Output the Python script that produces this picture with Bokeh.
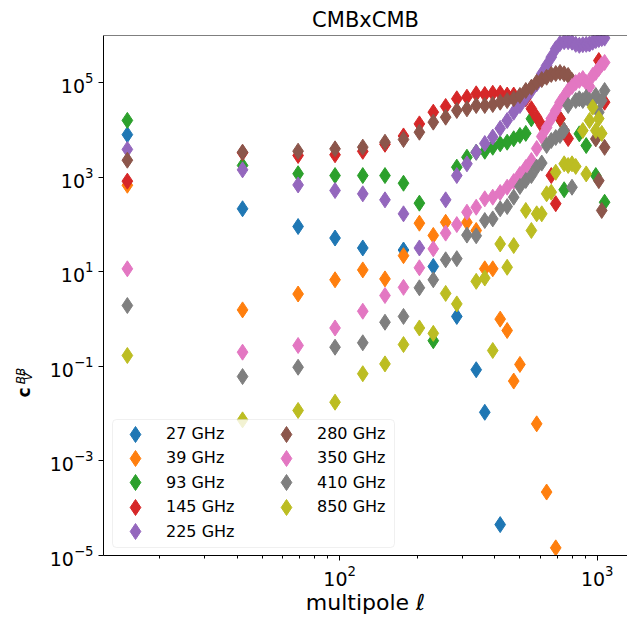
import math
from bokeh.plotting import figure
from bokeh.layouts import row
from bokeh.models import (FixedTicker, LogTickFormatter, Legend, LegendItem, Label,
                          Span, ColumnDataSource, Range1d, BoxAnnotation)
from bokeh.embed import file_html
from bokeh.resources import INLINE

nan = float("nan")

# multipole bin centres
ell = [15, 42, 69, 96, 123, 150, 177, 204, 231, 258, 285, 312, 339, 366, 393, 420,
       447, 474, 501, 528, 555, 582, 609, 636, 663, 690, 717, 744, 771, 798, 825,
       852, 879, 906, 933, 960, 987, 1014, 1041, 1068]

cl_27 = [8000, 216, 91, 52, 32, nan, 29, nan, 13, nan, 1.14, nan, 0.085, 0.0107, nan,
         4.5e-5, nan, nan, nan, nan, nan, nan, nan, nan, nan, nan, nan, nan, nan, nan,
         nan, nan, nan, nan, nan, nan, nan, nan, nan, nan]
cl_39 = [680, 1.57, 3.4, 6.8, 11, 7.1, 22, 107, 59, 112, nan, 112, 75, 11.6, 11.6, 1.0,
         0.575, 0.049, 0.11, nan, nan, 0.0061, nan, 2.2e-4, nan, 1.45e-5, nan, nan, nan,
         nan, nan, nan, nan, nan, nan, nan, nan, nan, nan, nan]
cl_93 = [16000, 1780, 1190, 1090, 1090, 1090, 750, 284, 0.35, nan, 1640, 2660, 3400,
         3560, 4330, 5110, 5530, 6530, 7670, 8500, 17300, nan, nan, nan, nan, nan, 17300,
         545, nan, nan, nan, 8300, nan, 4700, nan, nan, 1090, nan, nan, 297]
cl_145 = [830, 3300, 2900, 3000, 3550, 5000, 7500, 13500, 23900, 31500, 45800, 49500,
          58400, 56500, 60000, 60000, 55000, 55000, 51000, 45800, 28200, 18700, 12500,
          nan, 1090, 277, 17500, 9780, 6600, nan, nan, nan, nan, nan, nan, nan, nan,
          295000, nan, 38800]
cl_225 = [3900, 1440, 690, 526, 447, 334, 169, 32, nan, 334, 1090, 1930, 3400, 5190,
          7100, 10800, 15900, 23800, 33000, 49500, 68600, 95000, 155000, 232000, 348000,
          523000, 680000, 740000, 740000, 720000, 650000, 620000, 640000, 650000, 660000,
          720000, 780000, 820000, 860000, 880000]
cl_280 = [2300, 3400, 3570, 4000, 4350, 5530, 6300, 9000, 14700, 18700, 25900, 28100,
          33000, 33000, 34600, 38800, 42000, 45800, 53900, 68600, 80500, 103000, 117000,
          131000, 150000, 157000, 165000, 155000, 143000, 112000, nan, nan, nan, nan, nan,
          nan, 6500, 850, 199, 4300]
cl_350 = [11.6, 0.2, 0.277, 0.65, 1.47, 3.16, 4.7, 12.2, 30.7, 66, 100, 183, 233, 351,
          380, 477, 618, 813, 1150, 1610, 2270, 4070, 7300, 11300, 17500, 25900, 38300,
          51300, 68600, 83300, 101000, 112000, 123000, 101000, 83300, 143000, 165000,
          200000, 244000, 269000]
cl_410 = [1.94, 0.061, 0.096, 0.255, 0.316, 0.86, 1.14, 4.6, 6.8, 18, 19, 60, 58, 122,
          132, 216, 241, 380, 640, 857, 1090, 1640, 2000, 4710, 6010, 6950, 7670, 9780,
          33000, 617, 42200, 45800, 42200, 49000, 42200, 38300, 53900, 23800, 42200, 68600]
cl_850 = [0.17, 0.0074, 0.0117, 0.0175, 0.07, 0.113, 0.29, 0.65, 0.5, 3.5, 2.1, nan, 6.3,
          7.4, 0.217, 39, 12.5, 36, nan, 199, 75, 169, 169, 448, 484, 1280, nan, 1930,
          1780, 1930, 1700, nan, 9780, 1180, 15900, 30400, 9780, 17500, 8500, nan]

labels = ["27 GHz", "39 GHz", "93 GHz", "145 GHz", "225 GHz",
          "280 GHz", "350 GHz", "410 GHz", "850 GHz"]
colors = ["#1f77b4", "#ff7f0e", "#2ca02c", "#d62728", "#9467bd",
          "#8c564b", "#e377c2", "#7f7f7f", "#bcbd22"]
all_series = [cl_27, cl_39, cl_93, cl_145, cl_225, cl_280, cl_350, cl_410, cl_850]

x_ticks = [100, 1000]
x_minor = [20, 30, 40, 50, 60, 70, 80, 90, 200, 300, 400, 500, 600, 700, 800, 900]
y_ticks = [1e-5, 1e-3, 1e-1, 1e1, 1e3, 1e5]
Y_LO, Y_HI = 1e-5, 1e6

FONT = "DejaVu Sans"
W, H = 627, 618
LW = 45          # width of the strip that carries the y-axis title
FRAME_L = 103    # page x of the left spine
FRAME_T = 35     # page y of the top spine
FRAME_B = 555    # page y of the bottom spine

p = figure(width=W - LW, height=H, x_axis_type="log", y_axis_type="log",
           x_range=Range1d(10 ** 1.0835, 10 ** 3.1174), y_range=Range1d(Y_LO, Y_HI),
           output_backend="svg", toolbar_location=None, title="CMBxCMB",
           min_border_left=FRAME_L - LW, min_border_right=0, min_border_top=FRAME_T,
           min_border_bottom=H - FRAME_B)

p.title.text_font = FONT
p.title.text_font_size = "21px"
p.title.text_font_style = "normal"
p.title.align = "center"
p.title.text_color = "black"
p.title.standoff = 7

p.grid.visible = False
p.outline_line_color = None
p.background_fill_color = "white"
p.border_fill_color = "white"

for ax in (p.xaxis, p.yaxis):
    ax.axis_line_color = "black"
    ax.axis_line_width = 1
    ax.major_tick_line_color = "black"
    ax.minor_tick_line_color = "black"
    ax.major_tick_in = 0
    ax.major_tick_out = 5
    ax.minor_tick_in = 0
    ax.minor_tick_out = 3
    ax.major_label_text_font = FONT
    ax.major_label_text_font_size = "19px"
    ax.major_label_text_color = "black"
    ax.formatter = LogTickFormatter()

p.xaxis.ticker = FixedTicker(ticks=x_ticks, minor_ticks=x_minor)
p.yaxis.ticker = FixedTicker(ticks=y_ticks, minor_ticks=[])
p.xaxis.major_label_standoff = 4
p.yaxis.major_label_standoff = 5

p.xaxis.axis_label = "multipole \u2113"
p.xaxis.axis_label_text_font = FONT
p.xaxis.axis_label_text_font_size = "22px"
p.xaxis.axis_label_text_font_style = "normal"
p.xaxis.axis_label_text_color = "black"
p.xaxis.axis_label_standoff = 1

# top spine
p.add_layout(Span(location=Y_HI, dimension="width", line_color="black", line_width=1))

renderers = []
for lab, col, vals in zip(labels, colors, all_series):
    xs = [e for e, v in zip(ell, vals) if not math.isnan(v)]
    ys = [v for v in vals if not math.isnan(v)]
    src = ColumnDataSource(data=dict(x=xs, y=ys))
    r = p.scatter("x", "y", source=src, marker="diamond", size=16,
                  fill_color=col, line_color=col, line_width=1)
    renderers.append(r)

# legend frame (semi-transparent white box with light grey border)
box_kw = dict(left=112 - FRAME_L, right=394 - FRAME_L, bottom=FRAME_B - 547,
              top=FRAME_B - 419, left_units="screen", right_units="screen",
              bottom_units="screen", top_units="screen", fill_color="white",
              fill_alpha=0.8, line_color="#cccccc", line_width=1)
try:
    box = BoxAnnotation(border_radius=4, **box_kw)
except Exception:
    box = BoxAnnotation(**box_kw)
p.add_layout(box)

# legend entries: two columns, one small legend per entry
col_x = [135, 286]
row_y = [433.5, 457.9, 482.3, 506.7, 531.1]
G = 40
for i, (lab, r) in enumerate(zip(labels, renderers)):
    c, k = (0, i) if i < 5 else (1, i - 5)
    lg = Legend(items=[LegendItem(label=lab, renderers=[r])],
                location=(col_x[c] - G / 2 - FRAME_L, FRAME_B - row_y[k] - G / 2),
                margin=0, padding=0, spacing=0, glyph_width=G, glyph_height=G,
                label_height=G, label_standoff=11, label_width=40,
                label_text_font=FONT, label_text_font_size="16px",
                label_text_color="black", label_text_baseline="middle",
                border_line_alpha=0, background_fill_alpha=0)
    p.add_layout(lg)

# y-axis title  c_V^BB  (bold c, italic super/subscripts), rotated, in its own strip.
q = figure(width=LW, height=H, output_backend="svg", toolbar_location=None,
           x_axis_location=None, y_axis_location=None, y_axis_type="log",
           x_range=Range1d(0, LW), y_range=Range1d(Y_LO, Y_HI),
           min_border_left=0, min_border_right=0, min_border_top=FRAME_T,
           min_border_bottom=H - FRAME_B)
q.outline_line_color = None
q.grid.visible = False
q.background_fill_color = "white"
q.border_fill_color = "white"

# the strip is drawn about 88 px higher in the page than its own frame suggests,
# so its text anchors are moved down by that amount
STRIP_SHIFT = 88


def page_y_to_value(py):
    py = py + STRIP_SHIFT
    frac = (FRAME_B - py) / (FRAME_B - FRAME_T)
    return 10 ** (math.log10(Y_LO) + frac * (math.log10(Y_HI) - math.log10(Y_LO)))


lab_kw = dict(angle=math.pi / 2, text_align="center", text_baseline="middle",
              text_font=FONT, text_color="black")
q.add_layout(Label(x=23, y=page_y_to_value(304), text="c", text_font_size="17px",
                   text_font_style="bold", **lab_kw))
q.add_layout(Label(x=20, y=page_y_to_value(287.5), text="BB", text_font_size="12px",
                   text_font_style="italic", **lab_kw))
q.add_layout(Label(x=27.5, y=page_y_to_value(288), text="V", text_font_size="12px",
                   text_font_style="italic", **lab_kw))

layout = row(q, p, spacing=0)
open("out.html", "w").write(file_html(layout, INLINE))
